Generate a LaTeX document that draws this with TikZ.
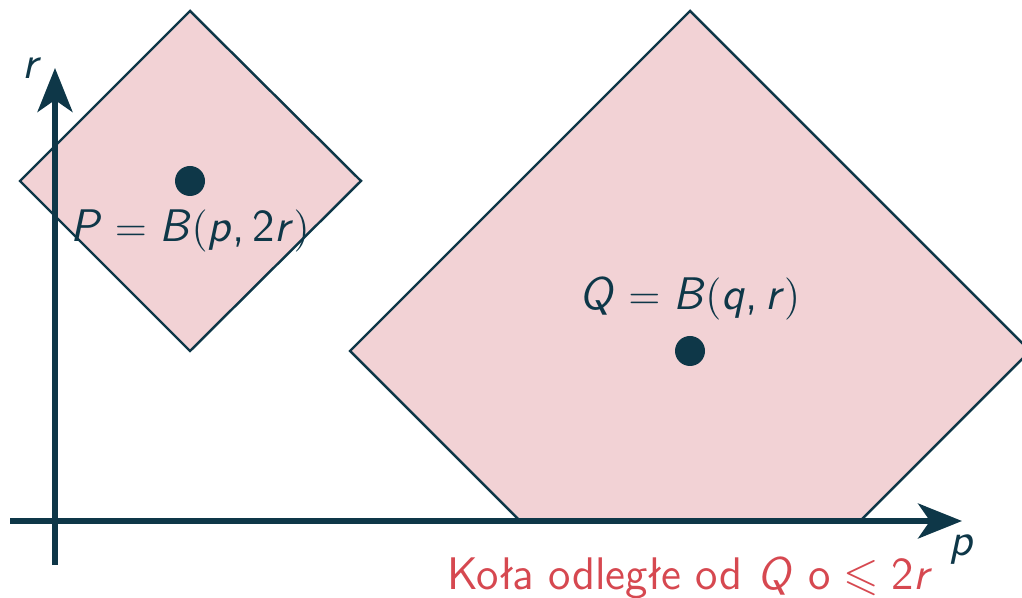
\documentclass[tikz,border=0pt]{standalone}
\usepackage{amssymb}
\usepackage{fontspec}
\usetikzlibrary{arrows.meta}
\definecolor{teal}{RGB}{14,55,72}
\definecolor{pinkfill}{RGB}{242,210,213}
\definecolor{redtext}{RGB}{214,72,80}
\newcommand{\mv}[1]{{\itshape #1\/}}
\newcommand{\meq}{\hspace{0.28em}$=$\hspace{0.28em}}
\tikzset{
  ball/.style={draw=teal,fill=pinkfill,line width=0.7pt,line join=miter},
  axis/.style={draw=teal,line width=1.5pt,-{Stealth[length=4.4mm,width=3.5mm,inset=1.2mm]}},
  dot/.style={circle,fill=teal,inner sep=0pt,minimum size=3mm},
  lbl/.style={text=teal,font=\fontsize{13}{15}\selectfont\sffamily},
}
\begin{document}
\begin{tikzpicture}[x=0.1mm,y=-0.1mm]
\useasboundingbox (0,0) rectangle (1022,598);
\begin{scope}
\clip (0,0) rectangle (1022,598);
\path[ball] (190,11) -- (361,181) -- (190,351) -- (20,181) -- cycle;
\path[ball] (690,11) -- (1030,351) -- (860,521) -- (520,521) -- (350,351) -- cycle;
\end{scope}
\node[dot] (pd) at (190,181) {};
\node[dot] (qd) at (690,351) {};
\node[lbl] (pl) at (190,231) {\mv{P}\meq\mv{B}$($\mv{p},\hspace{0.17em}2\mv{r}$)$};
\node[lbl] (ql) at (690,298) {\mv{Q}\meq\mv{B}$($\mv{q},\hspace{0.17em}\mv{r}$)$};
\coordinate (ys) at (55,565);
\coordinate (ye) at (55,68);
\coordinate (xs) at (10,521);
\coordinate (xe) at (962,521);
\draw[axis] (ys) -- (ye);
\draw[axis] (xs) -- (xe);
\node[lbl] (rl) at (32,68) {\mv{r}};
\node[lbl] (pxl) at (962,550) {\mv{p}};
\node[lbl,text=redtext] (cap) at (690,578) {Koła odległe od \mv{Q} o\hspace{0.28em}$\leqslant$\hspace{0.28em}2\mv{r}};
\end{tikzpicture}
\end{document}
